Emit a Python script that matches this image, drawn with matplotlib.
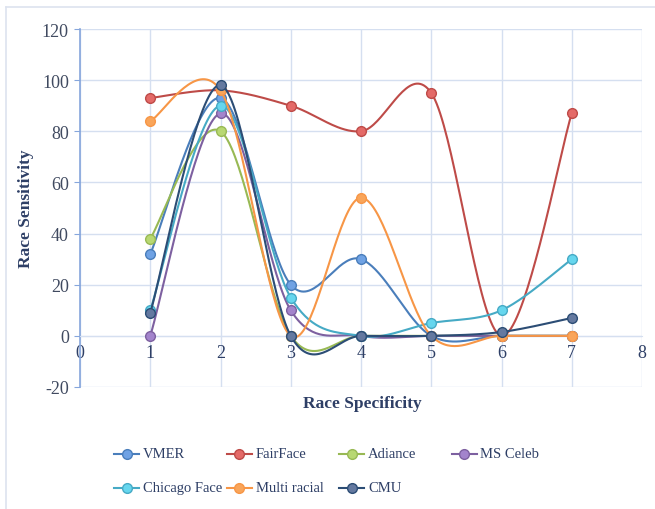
"""Race sensitivity vs race specificity, smoothed line chart."""

import matplotlib

matplotlib.use("Agg")

import matplotlib.pyplot as plt
import numpy as np
from matplotlib.lines import Line2D

plt.rcParams["axes.unicode_minus"] = False

x_positions = [1, 2, 3, 4, 5, 6, 7]

series_names = ["VMER", "FairFace", "Adiance", "MS Celeb", "Chicago Face", "Multi racial", "CMU"]
vmer = [32, 93, 20, 30, 0, 0, 0]
fairface = [93, 96, 90, 80, 95, 0, 87]
adiance = [38, 80, 0, 0, 0, 0, 0]
ms_celeb = [0, 87, 10, 0, 0, 0, 0]
chicago_face = [10, 90, 15, 0, 5, 10, 30]
multi_racial = [84, 96, 0, 54, 0, 0, 0]
cmu = [9, 98, 0, 0, 0, 1.5, 7]
series_values = [vmer, fairface, adiance, ms_celeb, chicago_face, multi_racial, cmu]

line_colors = ["#4a7ebb", "#be4b48", "#98b954", "#7d60a0", "#46aac5", "#f79646", "#2c4d75"]
marker_colors = ["#6fa2e4", "#e46a68", "#b8d872", "#a384cc", "#66d6ee", "#f9a55a", "#6479a0"]

SERIF = ["Liberation Serif", "DejaVu Serif"]
TEXT_COLOR = "#2e3f66"
GRID_COLOR = "#d5dff0"
W, H = 655, 510


def smooth(xs, ys, steps=40):
    # Excel-style smoothed line: Bezier segments with Catmull-Rom tangents
    pts = np.column_stack([xs, ys]).astype(float)
    padded = np.vstack([pts[0], pts, pts[-1]])
    t = np.linspace(0.0, 1.0, steps)[:, None]
    out = []
    for i in range(len(pts) - 1):
        p0, p3 = padded[i + 1], padded[i + 2]
        p1 = p0 + (padded[i + 2] - padded[i]) / 6.0
        p2 = p3 - (padded[i + 3] - padded[i + 1]) / 6.0
        seg = (1 - t) ** 3 * p0 + 3 * (1 - t) ** 2 * t * p1 + 3 * (1 - t) * t ** 2 * p2 + t ** 3 * p3
        out.append(seg if i == 0 else seg[1:])
    curve = np.vstack(out)
    return curve[:, 0], curve[:, 1]


fig = plt.figure(figsize=(W / 100, H / 100), dpi=100)
ax = fig.add_axes([80 / W, 1 - 388 / H, 562 / W, 358 / H])

for k, values in enumerate(series_values):
    sx, sy = smooth(x_positions, values)
    ax.plot(sx, sy, color=line_colors[k], lw=1.5, zorder=3 + k, solid_capstyle="round")
    ax.plot(x_positions, values, ls="none", marker="o", ms=7,
            mfc=marker_colors[k], mec=line_colors[k], mew=1.0, zorder=3 + k)

ax.set_xlim(0, 8)
ax.set_ylim(-20, 120)
ax.set_xticks(range(0, 9))
ax.set_yticks(range(-20, 121, 20))
ax.grid(True, color=GRID_COLOR, lw=1.0, zorder=0)
ax.set_axisbelow(True)

for side in ("top", "right"):
    ax.spines[side].set_visible(False)
ax.spines["left"].set_color("#86a6dc")
ax.spines["left"].set_linewidth(1.2)
ax.spines["bottom"].set_position(("data", 0))
ax.spines["bottom"].set_color(GRID_COLOR)

ax.tick_params(axis="x", length=0, pad=6, labelsize=13, labelcolor=TEXT_COLOR)
ax.tick_params(axis="y", length=4, color="#86a6dc", pad=4, labelsize=13, labelcolor="#404a60")
for label in ax.get_xticklabels() + ax.get_yticklabels():
    label.set_fontfamily(SERIF)

ax.set_ylabel("Race Sensitivity", fontsize=12.5, fontweight="bold", color=TEXT_COLOR, family=SERIF)
ax.yaxis.set_label_coords(-(80 - 34) / 562, 0.5)
fig.text(362 / W, 1 - 404 / H, "Race Specificity", fontsize=12.5, fontweight="bold",
         color=TEXT_COLOR, family=SERIF, ha="center", va="center")

# legend laid out on a fixed grid, 4 entries per row like the original
for k, name in enumerate(series_names):
    row, col = divmod(k, 4)
    x0 = (114 + 112.5 * col) / W
    y0 = 1 - (455 + 34 * row) / H
    fig.add_artist(Line2D([x0, x0 + 25 / W], [y0, y0], color=line_colors[k], lw=1.5))
    fig.add_artist(Line2D([x0 + 12.5 / W], [y0], ls="none", marker="o", ms=7,
                          mfc=marker_colors[k], mec=line_colors[k], mew=1.0))
    fig.text(x0 + 29 / W, y0, name, fontsize=10.5, color=TEXT_COLOR, family=SERIF,
             ha="left", va="center")

fig.add_artist(Line2D([6 / W, 6 / W], [0, 1 - 8 / H], color="#dde3ef", lw=1.2))
fig.add_artist(Line2D([6 / W, 1], [1 - 8 / H, 1 - 8 / H], color="#dde3ef", lw=1.2))

fig.savefig("out.png", dpi=100)
